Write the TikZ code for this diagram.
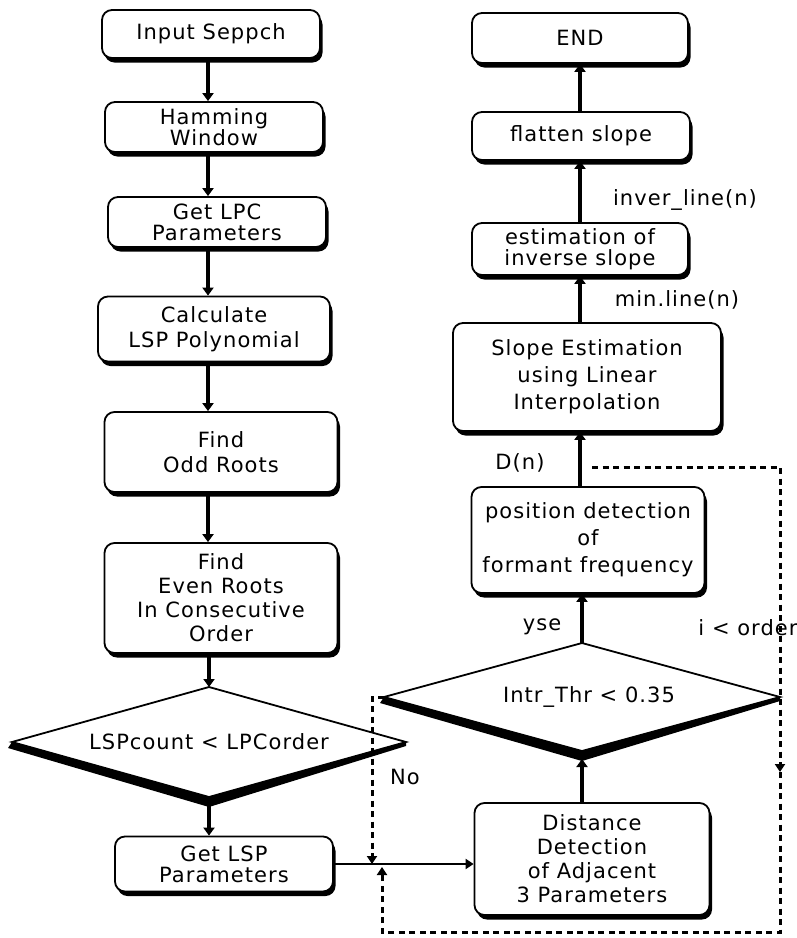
\documentclass[tikz,border=0pt]{standalone}
\usepackage{fontspec}
\setmainfont{DejaVu Sans}[LetterSpace=5]
\usetikzlibrary{shapes.geometric,arrows.meta,shadows}
\tikzset{
  box/.style={draw, rounded corners=10pt, line width=1.8pt, fill=white, align=center,
    inner sep=2pt, font=\fontsize{21}{25}\selectfont,
    drop shadow={shadow xshift=2.5pt, shadow yshift=-4.5pt, fill=black, opacity=1}},
  tight/.style={font=\fontsize{21}{21}\selectfont},
  dia/.style={draw, shape=diamond, line width=1.8pt, fill=white, shape aspect=3.6,
    inner sep=0pt, outer sep=0pt, font=\fontsize{21}{25}\selectfont},
  arr/.style={line width=3.4pt, -{Triangle[length=8pt,width=11pt]}},
  arrthin/.style={line width=2.4pt, -{Triangle[length=8pt,width=10pt]}},
  dline/.style={line width=3pt, dash pattern=on 6pt off 4.5pt},
  darr/.style={dline, -{Triangle[length=8pt,width=10pt]}},
  lbl/.style={font=\fontsize{21}{25}\selectfont, inner sep=0pt},
}
\begin{document}
\begin{tikzpicture}[x=1pt,y=-1pt]
\useasboundingbox (0,0) rectangle (797,938);
% left column
\node[box, minimum width=218pt, minimum height=48pt] (in) at (211,34) {Input Seppch};
\node[box, tight, minimum width=218pt, minimum height=50pt] (ham) at (214,127) {Hamming\\Window};
\node[box, tight, minimum width=218pt, minimum height=50pt] (lpc) at (217,222) {Get LPC\\Parameters};
\node[box, minimum width=232pt, minimum height=65pt] (calc) at (214,329) {Calculate\\LSP Polynomial};
\node[box, minimum width=233pt, minimum height=80pt] (odd) at (221,452) {Find\\Odd Roots};
\node[box, font=\fontsize{21}{24}\selectfont, minimum width=233pt, minimum height=110pt] (even) at (221,598) {Find\\Even Roots\\In Consecutive\\Order};
\node[dia, minimum width=394pt, minimum height=110pt] (L) at (209,742) {\raisebox{-5pt}{LSPcount < LPCorder}};
\fill (L.west) -- ([xshift=-4pt,yshift=-6pt]L.west) -- ([yshift=-10pt]L.south) -- ([yshift=-4pt]L.east) -- (L.east) -- (L.south) -- cycle;
\node[box, tight, minimum width=218pt, minimum height=55pt] (glsp) at (224,864) {Get LSP\\Parameters};
% right column
\node[box, minimum width=216pt, minimum height=50pt] (end) at (580,38) {END};
\node[box, minimum width=218pt, minimum height=48pt] (flat) at (581,136) {flatten slope};
\node[box, tight, minimum width=216pt, minimum height=52pt] (inv) at (580,249) {estimation of\\inverse slope};
\node[box, font=\fontsize{21}{27}\selectfont, minimum width=268pt, minimum height=108pt] (slope) at (587,377) {Slope Estimation\\using Linear\\Interpolation};
\node[box, font=\fontsize{21}{27}\selectfont, minimum width=233pt, minimum height=106pt] (pos) at (588,540) {position detection\\of\\formant frequency};
\node[dia, minimum width=396pt, minimum height=108pt] (I) at (582,697) {\hspace*{14pt}Intr\_Thr < 0.35};
\fill (I.west) -- ([xshift=-4pt,yshift=-6pt]I.west) -- ([yshift=-10pt]I.south) -- ([yshift=-4pt]I.east) -- (I.east) -- (I.south) -- cycle;
\node[box, font=\fontsize{21}{24}\selectfont, minimum width=235pt, minimum height=112pt] (dist) at (592,859) {Distance\\Detection\\of Adjacent\\3 Parameters};
% labels
\node[lbl] (lno) at (405,777) {No};
\node[lbl] (lyse) at (542,627) {yse};
\node[lbl] (lord) at (748,628) {i < order};
\node[lbl] (ldn) at (520,463) {D(n)};
\node[lbl] (lmin) at (677,300) {min.line(n)};
\node[lbl] (linv) at (685,200) {inver\_line(n)};
% coordinates
\coordinate (xL) at (208,0);
\coordinate (xR) at (580,0);
\coordinate (dA) at (372,0);
\coordinate (dT) at (592,467);
\coordinate (dTR) at (780,467);
\coordinate (dRM) at (780,772);
\coordinate (dBR) at (780,932);
\coordinate (dBL) at (382,932);
% left connectors
\draw[arr] (in.south -| xL) -- (ham.north -| xL);
\draw[arr] (ham.south -| xL) -- (lpc.north -| xL);
\draw[arr] (lpc.south -| xL) -- (calc.north -| xL);
\draw[arr] (calc.south -| xL) -- (odd.north -| xL);
\draw[arr] (odd.south -| xL) -- (even.north -| xL);
\draw[arr] (even.south -| L.north) -- (L.north);
\draw[arr] ([yshift=-8pt]L.south) -- (L.south |- glsp.north);
\draw[arrthin] (glsp.east) -- (glsp.east -| dist.west);
% right connectors
\draw[arr] (dist.north -| I.south) -- ([yshift=-8pt]I.south);
\draw[arr] (I.north) -- (I.north |- pos.south);
\draw[arr] (pos.north -| xR) -- (slope.south -| xR);
\draw[arr] (slope.north -| xR) -- (inv.south -| xR);
\draw[arr] (inv.north -| xR) -- (flat.south -| xR);
\draw[arr] (flat.north -| xR) -- (end.south -| xR);
% dashed connectors
\draw[darr] (I.west) -- (I.west -| dA) -- (dA |- glsp.east);
\draw[darr] (dT) -- (dTR) -- (dRM);
\draw[darr] (dRM) -- (dBR) -- (dBL) -- ([yshift=-3pt]dBL |- glsp.east);
\end{tikzpicture}
\end{document}
